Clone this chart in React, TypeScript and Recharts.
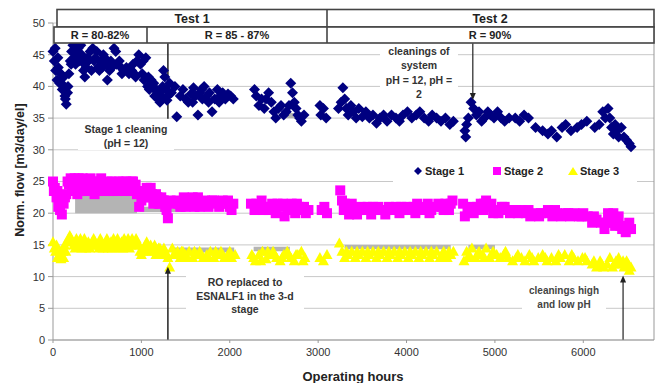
import React from "react";
import {
  ScatterChart,
  Scatter,
  XAxis,
  YAxis,
  CartesianGrid,
  ReferenceLine,
  ReferenceArea,
  ReferenceDot,
} from "recharts";

// [operating hours, normalized flow m3/day/el]
const stage1: [number, number][] = [
  [0, 45.5], [15, 44], [30, 42.5], [45, 41], [60, 43], [75, 40.5], [90, 42], [105, 39.5], [120, 41.5],
  [135, 38.5], [150, 37.2], [165, 39], [180, 42], [195, 44], [210, 45.5], [225, 46.5], [240, 44.5],
  [255, 43.5], [270, 45], [285, 46], [300, 45], [315, 46.5], [330, 44], [345, 42.5], [360, 41.5],
  [375, 43], [390, 44.5], [420, 45.5], [450, 46], [480, 44.5], [510, 43], [540, 44], [570, 45],
  [600, 43.5], [615, 41], [640, 42.5], [665, 43], [690, 46], [710, 45.5], [750, 44], [770, 43],
  [800, 42.5], [830, 43], [860, 42], [890, 42.5], [920, 42], [950, 44], [970, 45], [990, 43.5],
  [1010, 42], [1030, 41], [1050, 44.5], [1070, 40], [1090, 39.5], [1110, 41], [1130, 39.8], [1150, 38.5],
  [1170, 39.5], [1190, 38], [1210, 37.5], [1230, 38.5], [1250, 42.5], [1265, 41.5], [1280, 39.5], [1295, 38.5],
  [25, 46], [55, 44.5], [95, 40.5], [140, 38], [170, 40], [205, 43.5], [235, 45.5], [265, 46.5], [295, 44],
  [325, 45], [355, 43.5], [400, 44], [435, 42.5], [465, 44], [495, 45.5], [525, 42.5], [555, 43], [585, 44.5],
  [655, 44], [720, 43.5], [780, 42], [845, 42.5], [905, 43.5], [935, 41.5], [1020, 44], [1080, 41.5],
  [1140, 40.5], [1200, 39], [1240, 40], [1290, 37.8],
  [1320, 40.5], [1340, 39], [1380, 40], [1400, 35.2], [1440, 38.5], [1470, 39.5], [1500, 38], [1530, 37.5],
  [1560, 38.8], [1590, 39.8], [1610, 38.5], [1640, 35.5], [1660, 39], [1690, 38], [1710, 40], [1740, 38.5],
  [1770, 39], [1800, 36], [1830, 38], [1860, 39.5], [1890, 38.5], [1920, 39], [1950, 38], [1980, 38.8],
  [2010, 38.5], [2040, 38], [1580, 37.5], [1680, 39.5], [1760, 37.5], [1880, 37.5],
  [2280, 39.5], [2300, 38.5], [2330, 37], [2360, 38], [2390, 36.5], [2410, 38], [2440, 39], [2470, 37.5],
  [2500, 36], [2520, 35], [2550, 36.5], [2580, 37], [2610, 35.5], [2640, 36], [2670, 37], [2690, 40.5],
  [2710, 39], [2730, 37.5], [2750, 36.5], [2770, 35.5], [2790, 35], [2810, 34.5], [2840, 35.5],
  [3020, 37], [3030, 35.5], [3060, 36.5], [3090, 35],
  [3230, 36.5], [3260, 37.5], [3280, 39.8], [3300, 38], [3320, 36.5], [3340, 35.5], [3370, 37], [3400, 36],
  [3430, 35], [3460, 36.5], [3500, 35.2], [3540, 36], [3580, 35], [3620, 35.5], [3660, 34.2], [3700, 35],
  [3740, 35.5], [3780, 34.5], [3830, 35.5], [3880, 35], [3920, 34.5], [3960, 35.5], [4010, 36], [4060, 35],
  [4110, 35.5], [4150, 36], [4200, 35], [4250, 34.5], [4290, 35.5], [4340, 35], [4390, 34.5], [4440, 35],
  [4490, 34], [4530, 34.5],
  [4660, 33], [4670, 32], [4680, 34], [4700, 35], [4730, 37.5], [4760, 36.5], [4790, 35.5], [4820, 36],
  [4850, 34.5], [4880, 35], [4920, 36], [4950, 35.5], [4990, 35], [5030, 36], [5070, 35], [5110, 34.5],
  [5160, 35], [5230, 35], [5280, 34.5], [5330, 35.5], [5380, 35], [5460, 33.5], [5540, 33], [5600, 32.5],
  [5640, 33], [5700, 32], [5760, 33.5], [5800, 34], [5860, 33], [5930, 33.5], [5980, 34], [6040, 34.5],
  [6130, 33.5], [6180, 34], [6220, 36], [6250, 35], [6280, 36.5], [6300, 35], [6320, 33.5], [6340, 32.5],
  [6360, 34], [6380, 33], [6400, 32], [6430, 33.5], [6460, 32], [6490, 31.5], [6520, 31], [6540, 30.5],
];

const stage2: [number, number][] = [
  [0, 25], [20, 24], [40, 22.5], [60, 21], [80, 20.5], [100, 19.8], [120, 21.5], [150, 23], [180, 24.5],
  [200, 25.5], [230, 25], [260, 24], [290, 25.5], [320, 24.5], [350, 23.5], [380, 24.5], [410, 25],
  [440, 24], [470, 23], [500, 24.5], [530, 25], [560, 24], [590, 23.5], [620, 25], [650, 24.5], [680, 23.5],
  [710, 24.5], [740, 25], [770, 24.5], [800, 24], [830, 25], [860, 24.5], [890, 25], [920, 24], [950, 23],
  [975, 21], [1000, 22], [1030, 23.5], [1060, 24], [1090, 22.5], [1120, 23], [1150, 22], [1180, 22.5],
  [1210, 21.5], [1240, 22], [1270, 21], [1300, 19.2],
  [10, 23.5], [50, 23.5], [90, 22], [135, 22.5], [165, 25], [215, 23.5], [245, 25.5], [275, 23], [305, 23.5],
  [335, 25.5], [365, 24], [395, 23.5], [425, 25.5], [455, 25], [485, 24], [515, 23.5], [545, 25.5],
  [575, 24.5], [605, 24], [635, 23.5], [665, 25], [695, 24], [725, 23.5], [755, 24], [785, 25], [815, 23.5],
  [845, 24], [875, 23.5], [905, 25], [935, 24.5], [1010, 23], [1045, 22.5], [1075, 23.5], [1105, 24],
  [1135, 21.5], [1165, 23], [1195, 21.5], [1225, 22.5], [1255, 22], [1285, 20.5],
  [1330, 22], [1360, 21.5], [1400, 22], [1440, 21], [1480, 22.5], [1520, 21.5], [1560, 22], [1600, 21],
  [1640, 22.5], [1680, 21.5], [1720, 22], [1760, 21], [1800, 22], [1840, 21.5], [1880, 21], [1920, 22],
  [1960, 21.5], [2000, 21], [2040, 21.5], [1420, 21.5], [1500, 21], [1580, 22.5], [1660, 21], [1740, 21.5],
  [1820, 22], [1900, 21.5], [1980, 22], [2020, 20.5],
  [2240, 21.5], [2280, 20.5], [2320, 21], [2360, 22], [2400, 21], [2440, 20.5], [2480, 21.5], [2520, 20],
  [2560, 21], [2600, 21.5], [2620, 19.5], [2660, 20.5], [2700, 21.5], [2740, 20], [2780, 21], [2820, 20.5],
  [2860, 20], [2890, 20.5], [2300, 21.5], [2380, 20.5], [2460, 21], [2540, 21.5], [2700, 20.5], [2760, 21.5],
  [2840, 21],
  [3040, 20.5], [3070, 21], [3100, 20],
  [3250, 23.6], [3270, 22], [3290, 20.5], [3320, 21], [3350, 19.8], [3380, 21.5], [3410, 20.5], [3440, 19.8],
  [3480, 21], [3520, 20.5], [3560, 21], [3600, 19.8], [3640, 20.5], [3680, 21], [3720, 20.5], [3760, 19.8],
  [3800, 21], [3840, 20.5], [3880, 21], [3920, 20], [3960, 20.5], [4000, 21], [4040, 20.5], [4080, 21],
  [4120, 21.5], [4160, 20.5], [4200, 21], [4240, 21.5], [4280, 20.5], [4320, 21], [4360, 21.5], [4400, 21],
  [4440, 21.5], [4480, 20.5], [4520, 22], [3300, 21.5], [3460, 20.5], [3620, 21], [3780, 20.5], [3940, 21],
  [4100, 20], [4260, 20], [4420, 20.5], [4500, 21.5],
  [4640, 21.5], [4660, 19.5], [4690, 20.5], [4720, 21], [4760, 20], [4800, 21], [4840, 21.5], [4870, 20.5],
  [4900, 22], [4930, 21], [4960, 21.5], [5000, 20.5], [5040, 20], [5080, 21], [5130, 20.5], [5170, 20],
  [5220, 20.5], [5260, 20], [5300, 20.5], [5350, 20], [5400, 19.5], [5450, 20], [5500, 19.5], [5550, 20],
  [5600, 20.5], [5650, 19.5], [5700, 20], [5750, 19.5], [5800, 20], [5850, 19.5], [5900, 20], [5950, 19.5],
  [6000, 20], [6050, 19.5], [6100, 18.5], [6150, 19], [6200, 18.5], [6240, 17.5], [6280, 20], [6320, 19.5],
  [6360, 18], [6400, 19.5], [6440, 17.5], [6480, 17], [6520, 18.5], [6540, 17.5],
  [4780, 20.5], [4880, 21.5], [4980, 20], [5110, 21], [5240, 20.5], [5380, 20.5], [5520, 20], [5680, 20.5],
  [5830, 20], [5980, 19.5], [6120, 19.5], [6260, 18.5], [6300, 18.5], [6340, 20], [6420, 18], [6500, 17.5],
];

const stage3: [number, number][] = [
  [0, 15.5], [15, 14.5], [30, 14], [50, 13], [70, 13.5], [90, 12.8], [110, 14], [130, 15], [160, 15.5],
  [190, 16.5], [220, 15.5], [250, 14.5], [280, 15], [310, 16], [340, 15], [370, 14.5], [400, 15.5],
  [430, 15], [460, 16], [490, 15], [520, 14.5], [550, 15.5], [580, 15], [610, 16], [640, 15], [670, 14.5],
  [700, 15.5], [730, 16], [760, 15], [790, 14.5], [820, 15.5], [850, 16], [880, 15], [910, 15.5], [940, 16],
  [970, 15], [1000, 13.5], [1030, 14.5], [1060, 15.5], [1090, 14.5], [1120, 14], [1150, 15], [1180, 14],
  [1210, 14.5], [1240, 13.5], [1270, 14], [1300, 13], [1320, 11.5],
  [40, 15], [80, 14], [120, 13], [145, 14], [175, 16], [205, 16], [235, 15], [265, 16], [295, 15.5],
  [325, 14.5], [355, 16], [385, 15], [415, 14.5], [445, 15.5], [475, 15.5], [505, 15], [535, 16],
  [565, 14.5], [595, 15.5], [625, 14.5], [655, 15.5], [685, 16], [715, 15], [745, 14.5], [775, 15.5],
  [805, 16], [835, 15], [865, 14.5], [895, 16], [925, 15], [955, 15.5], [985, 14], [1015, 14], [1045, 15],
  [1075, 14], [1105, 15], [1135, 14.5], [1165, 13.5], [1195, 14.5], [1225, 14], [1255, 14.5], [1285, 13.5],
  [1350, 14.5], [1380, 13.5], [1410, 14], [1440, 13], [1470, 14], [1500, 13.5], [1540, 14], [1580, 13],
  [1620, 13.5], [1660, 14], [1700, 13], [1740, 13.5], [1780, 14], [1820, 13], [1860, 13.5], [1900, 14],
  [1940, 13], [1980, 13.5], [2020, 13], [2060, 13.5], [1365, 13.5], [1455, 14], [1520, 13], [1600, 14],
  [1680, 13.5], [1760, 13], [1840, 14], [1920, 13.5], [2000, 14],
  [2250, 13.5], [2290, 12.5], [2330, 13.5], [2370, 14], [2410, 12.8], [2450, 13.5], [2490, 14], [2530, 13],
  [2570, 12.5], [2610, 13.5], [2650, 14], [2690, 13], [2730, 12.5], [2770, 13.5], [2810, 14], [2850, 13],
  [2270, 13], [2350, 12.5], [2430, 14], [2510, 13.5], [2590, 13], [2670, 13.5], [2750, 13.5], [2830, 12.5],
  [3020, 13], [3060, 12.5], [3100, 13.5],
  [3240, 15.3], [3270, 14], [3300, 13], [3340, 13.5], [3380, 14], [3420, 13], [3460, 13.5], [3500, 14],
  [3540, 13], [3580, 13.5], [3620, 14], [3660, 13], [3700, 13.5], [3740, 14], [3780, 13], [3820, 13.5],
  [3860, 14], [3900, 13], [3940, 13.5], [3980, 14], [4020, 13], [4060, 13.5], [4100, 14], [4140, 13],
  [4180, 13.5], [4220, 14], [4260, 13], [4300, 13.5], [4340, 14], [4380, 13], [4420, 14], [4460, 13],
  [4500, 13.5], [4530, 14], [3320, 14], [3440, 14], [3560, 14], [3680, 14], [3800, 14], [3920, 14],
  [4040, 14], [4160, 14], [4280, 14], [4400, 13.5], [4480, 14],
  [4650, 12.5], [4680, 14], [4710, 13.5], [4740, 14.5], [4780, 13], [4820, 14], [4860, 13.5], [4900, 14.5],
  [4940, 13], [4980, 14], [5020, 13.5], [5060, 13], [5100, 13.5], [5150, 13], [5200, 12.5], [5260, 13.5],
  [5300, 13], [5340, 12.5], [5390, 13.5], [5440, 12.5], [5490, 13], [5540, 13.5], [5590, 12.5], [5640, 13],
  [5690, 12.5], [5740, 13], [5790, 13.5], [5840, 12.5], [5890, 13], [5940, 12.5], [5990, 13], [6040, 12.5],
  [6100, 12], [6150, 11.5], [6190, 12.5], [6230, 11.5], [6270, 12], [6300, 13], [6330, 11.5], [6370, 12.5],
  [6400, 13], [6430, 12], [6460, 11.5], [6490, 12.5], [6520, 11], [6540, 11.5],
  [4700, 13], [4800, 13.5], [4880, 13], [4960, 13.5], [5120, 14], [5240, 13], [5420, 13], [5570, 13],
  [5720, 13.5], [5870, 13.5], [6020, 13], [6120, 12.5], [6210, 12], [6350, 12], [6450, 12.5], [6510, 12],
];

// grey patches left behind the markers: [x1, x2, y1, y2]
const greyPatches: [number, number, number, number][] = [
  [250, 950, 20, 22.8],
  [980, 1500, 20.2, 21],
  [1340, 2050, 13.8, 14.6],
  [2270, 2680, 14, 14.7],
  [3300, 4500, 14.3, 15],
  [4700, 5000, 14.3, 15],
  [2560, 2760, 35, 35.8],
];

const xTicks = [0, 1000, 2000, 3000, 4000, 5000, 6000];
const yTicks = [0, 5, 10, 15, 20, 25, 30, 35, 40, 45, 50];

const toPoints = (rows: [number, number][]) => rows.map(([h, f]) => ({ h, f }));

const FONT = "'Liberation Sans', Arial, sans-serif";
const NAVY = "#000080";
const MAGENTA = "#ff00ff";
const YELLOW = "#ffff00";
const INK = "#222";

const Diamond = (p: any) => (
  <polygon
    points={`${p.cx},${p.cy - 5.5} ${p.cx + 5.5},${p.cy} ${p.cx},${p.cy + 5.5} ${p.cx - 5.5},${p.cy}`}
    fill={NAVY}
  />
);
const Square = (p: any) => <rect x={p.cx - 5} y={p.cy - 5} width={10} height={10} fill={MAGENTA} />;
const Triangle = (p: any) => (
  <polygon
    points={`${p.cx},${p.cy - 5.5} ${p.cx + 5.5},${p.cy + 4.5} ${p.cx - 5.5},${p.cy + 4.5}`}
    fill={YELLOW}
  />
);

const headUp = (p: any) => (
  <polygon points={`${p.cx},${p.cy - 1} ${p.cx + 3},${p.cy + 6} ${p.cx - 3},${p.cy + 6}`} fill={INK} />
);
const headDown = (p: any) => (
  <polygon points={`${p.cx},${p.cy + 1} ${p.cx + 3},${p.cy - 6} ${p.cx - 3},${p.cy - 6}`} fill={INK} />
);

const noteStyle: React.CSSProperties = {
  position: "absolute",
  background: "#fff",
  font: `bold 10.5px ${FONT}`,
  color: "#333",
  textAlign: "center",
  lineHeight: "13.5px",
};

export default function App() {
  return (
    <div style={{ position: "fixed", left: 0, top: 0, width: 660, height: 383, background: "#fff" }}>
      <ScatterChart width={660} height={383} margin={{ top: 23, right: 6, bottom: 23, left: 0 }}>
        <CartesianGrid vertical={false} stroke="#c8c8c8" />
        {greyPatches.map(([x1, x2, y1, y2], i) => (
          <ReferenceArea key={i} x1={x1} x2={x2} y1={y1} y2={y2} fill="#b4b4b4" fillOpacity={1} stroke="none" />
        ))}
        <XAxis
          type="number"
          dataKey="h"
          domain={[0, 6800]}
          ticks={xTicks}
          height={20}
          tickSize={3}
          tickMargin={5}
          tick={{ fontSize: 11, fill: "#333", fontFamily: FONT }}
          axisLine={{ stroke: "#999" }}
          tickLine={{ stroke: "#999" }}
        />
        <YAxis
          type="number"
          dataKey="f"
          domain={[0, 50]}
          ticks={yTicks}
          width={53}
          tickSize={5}
          tickMargin={3}
          tick={{ fontSize: 11, fill: "#333", fontFamily: FONT }}
          axisLine={{ stroke: "#999" }}
          tickLine={{ stroke: "#999" }}
        />
        <ReferenceLine x={6800} stroke="#999" />
        <Scatter name="Stage 1" data={toPoints(stage1)} shape={Diamond} isAnimationActive={false} />
        <Scatter name="Stage 2" data={toPoints(stage2)} shape={Square} isAnimationActive={false} />
        <Scatter name="Stage 3" data={toPoints(stage3)} shape={Triangle} isAnimationActive={false} />
        <ReferenceLine segment={[{ x: 1300, y: 46.8 }, { x: 1300, y: 34.9 }]} stroke={INK} strokeWidth={1.5} />
        <ReferenceLine segment={[{ x: 4750, y: 46.8 }, { x: 4750, y: 38.6 }]} stroke={INK} strokeWidth={1.2} />
        <ReferenceDot x={4750} y={38} r={3} shape={headDown} />
        <ReferenceLine segment={[{ x: 1300, y: 0 }, { x: 1300, y: 10.6 }]} stroke={INK} strokeWidth={1.5} />
        <ReferenceDot x={1300} y={11.4} r={3} shape={headUp} />
        <ReferenceLine segment={[{ x: 6450, y: 0 }, { x: 6450, y: 9.3 }]} stroke={INK} strokeWidth={1.2} />
        <ReferenceDot x={6450} y={10} r={3} shape={headUp} />
      </ScatterChart>

      <svg width={660} height={383} style={{ position: "absolute", left: 0, top: 0, pointerEvents: "none" }}>
        <g fill="#fff" stroke="#444" strokeWidth={1.6}>
          <rect x={57} y={9.5} width={597} height={17.5} />
          <rect x={54} y={27} width={600} height={16} />
          <line x1={327} y1={9.5} x2={327} y2={43} />
          <line x1={147} y1={27} x2={147} y2={43} />
        </g>
        <g fontFamily={FONT} fontWeight="bold" fill="#222" textAnchor="middle">
          <text x={192} y={22.5} fontSize={12.5}>Test 1</text>
          <text x={490} y={22.5} fontSize={12.5}>Test 2</text>
          <text x={100} y={39} fontSize={11}>R = 80-82%</text>
          <text x={237} y={39} fontSize={11}>R = 85 - 87%</text>
          <text x={490} y={39} fontSize={11}>R = 90%</text>
          <text x={353} y={381} fontSize={13}>Operating hours</text>
          <text transform="translate(24,170) rotate(-90)" fontSize={12.5}>Norm.  flow [m3/day/el]</text>
        </g>
      </svg>

      <div style={{ ...noteStyle, left: 78, top: 123, width: 96 }}>
        Stage 1 cleaning
        <br />
        (pH = 12)
      </div>
      <div style={{ ...noteStyle, left: 380, top: 44, width: 78, lineHeight: "14.3px" }}>
        cleanings of
        <br />
        system
        <br />
        pH = 12, pH =
        <br />2
      </div>
      <div style={{ ...noteStyle, left: 186, top: 276, width: 118 }}>
        RO replaced to
        <br />
        ESNALF1 in the 3-d
        <br />
        stage
      </div>
      <div style={{ ...noteStyle, left: 522, top: 284, width: 84, fontSize: 10, color: "#444" }}>
        cleanings high
        <br />
        and low pH
      </div>

      <div
        style={{
          position: "absolute",
          left: 393,
          top: 160,
          width: 244,
          height: 22,
          background: "#fff",
          display: "flex",
          alignItems: "center",
          font: `bold 11px ${FONT}`,
          color: "#222",
        }}
      >
        {[
          { name: "Stage 1", el: <polygon points="5,1 9,5 5,9 1,5" fill={NAVY} /> },
          { name: "Stage 2", el: <rect x={1} y={1} width={8} height={8} fill={MAGENTA} /> },
          { name: "Stage 3", el: <polygon points="5,1 10,9 0,9" fill={YELLOW} /> },
        ].map((it, i) => (
          <span
            key={it.name}
            style={{ position: "absolute", left: [20, 99, 175][i], display: "flex", alignItems: "center" }}
          >
            <svg width={10} height={10} style={{ marginRight: 2 }}>
              {it.el}
            </svg>
            {it.name}
          </span>
        ))}
      </div>
    </div>
  );
}
